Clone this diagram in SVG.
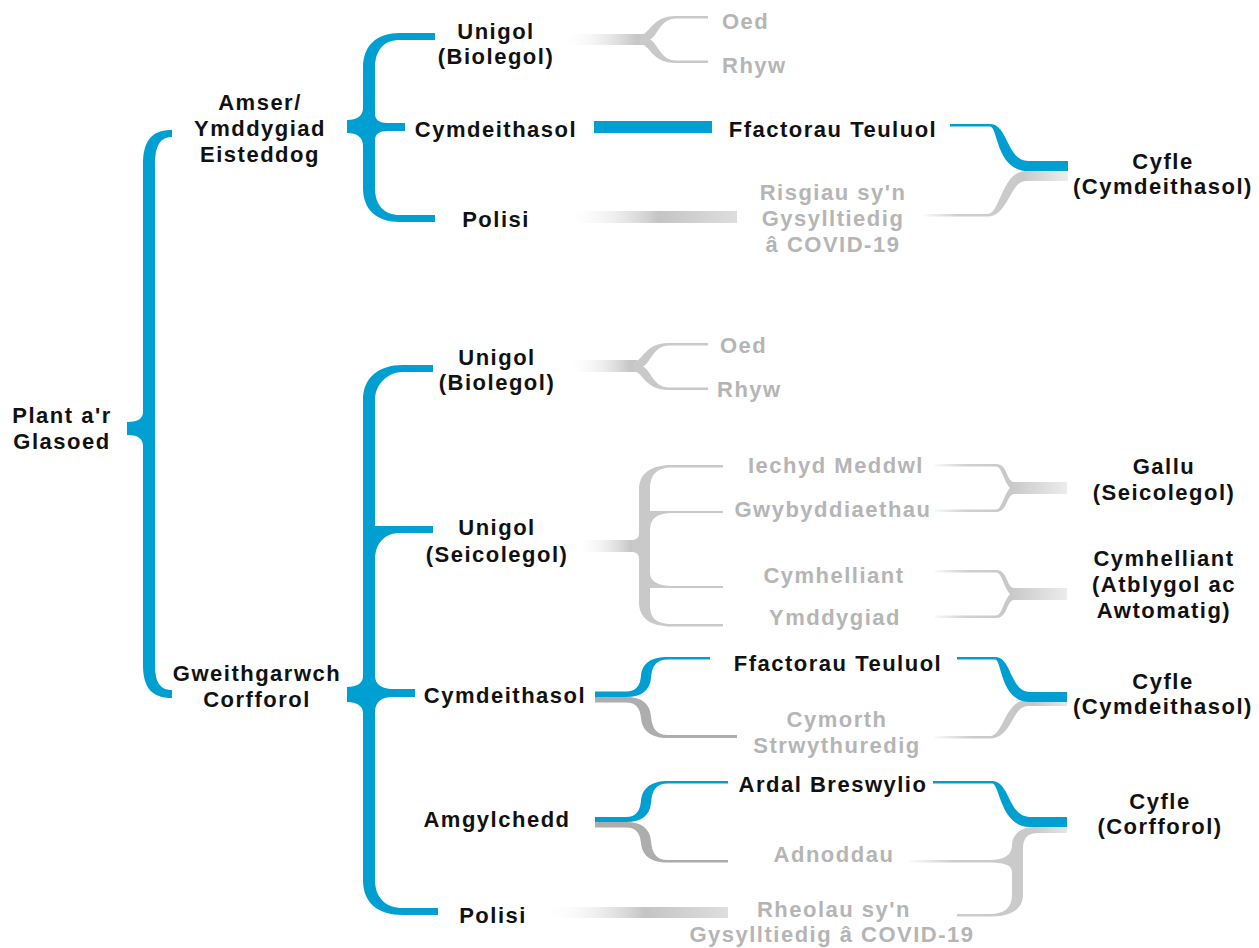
<svg xmlns="http://www.w3.org/2000/svg" width="1259" height="948" viewBox="0 0 1259 948">
<style>
.t{font-family:"Liberation Sans",Arial,sans-serif;font-weight:700;font-size:22px;letter-spacing:1.5px;text-anchor:middle;fill:#111}
.g{fill:#b5b5b5}
.s{text-anchor:start}
.b{fill:#009fd1}
.k{fill:#c9c9c9}
.d{fill:#adadad}
</style>
<defs>
<linearGradient id="fadeIn" x1="0" y1="0" x2="1" y2="0">
<stop offset="0" stop-color="#ffffff" stop-opacity="0"/>
<stop offset="0.9" stop-color="#c6c6c6"/>
<stop offset="1" stop-color="#c6c6c6"/>
</linearGradient>
<linearGradient id="polisi" x1="0" y1="0" x2="1" y2="0">
<stop offset="0" stop-color="#ffffff" stop-opacity="0"/>
<stop offset="0.55" stop-color="#c4c4c4"/>
<stop offset="1" stop-color="#dedede"/>
</linearGradient>
<linearGradient id="fadeOut" x1="0" y1="0" x2="1" y2="0">
<stop offset="0" stop-color="#c9c9c9"/>
<stop offset="1" stop-color="#ececec"/>
</linearGradient>
<linearGradient id="gForkR" gradientUnits="userSpaceOnUse" x1="930" y1="0" x2="1000" y2="0">
<stop offset="0" stop-color="#ffffff"/>
<stop offset="0.5" stop-color="#d2d2d2"/>
<stop offset="1" stop-color="#c9c9c9"/>
</linearGradient>
<linearGradient id="gRisg" gradientUnits="userSpaceOnUse" x1="920" y1="0" x2="1068" y2="0">
<stop offset="0" stop-color="#ffffff"/>
<stop offset="0.25" stop-color="#cfcfcf"/>
<stop offset="0.7" stop-color="#c9c9c9"/>
<stop offset="1" stop-color="#eeeeee"/>
</linearGradient>
<linearGradient id="gCym" gradientUnits="userSpaceOnUse" x1="930" y1="0" x2="1067" y2="0">
<stop offset="0" stop-color="#ffffff"/>
<stop offset="0.3" stop-color="#cccccc"/>
<stop offset="0.75" stop-color="#c6c6c6"/>
<stop offset="1" stop-color="#e6e6e6"/>
</linearGradient>
<linearGradient id="gAdn" gradientUnits="userSpaceOnUse" x1="905" y1="0" x2="1067" y2="0">
<stop offset="0" stop-color="#ffffff"/>
<stop offset="0.3" stop-color="#cccccc"/>
<stop offset="0.8" stop-color="#c9c9c9"/>
<stop offset="1" stop-color="#e6e6e6"/>
</linearGradient>
</defs>

<g id="connectors">
<!-- root brace -->
<path class="b" d="M172,130 C152,130 143,140 143,165 V412 C143,419 137,422 127,422 V435 C137,435 143,438 143,446 V665 C143,688 152,698 172,698 V690 C160,690 155,682 155,665 V165 C155,146 160,137 172,137 Z"/>
<!-- Amser brace -->
<path class="b" d="M435,33 H400 C377,33 363,45 363,68 V108 C363,116 357,120 347,120 V133 C357,133 363,137 363,146 V188 C363,210 377,222 400,222 H435 V215 H400 C384,215 375,205 375,188 V140 C375,134 380,131 387,131 H405 V123 H387 C380,123 375,120 375,114 V68 C375,50 384,40 400,40 H435 Z"/>
<!-- Gweithgarwch brace -->
<path class="b" d="M433,365 H403 C378,365 363,378 363,400 V676 C363,683 357,687 347,687 V702 C357,702 363,706 363,713 V880 C363,903 378,915 403,915 H438 V908 H403 C386,908 375,898 375,880 V712 C375,702 382,697 392,697 H415 V689 H392 C382,689 375,684 375,676 V560 C375,543 385,533 400,533 H433 V526 H375 V400 C375,385 387,372 403,372 H433 Z"/>

<!-- top section -->
<rect x="560" y="34" width="85" height="11" fill="url(#fadeIn)"/>
<path class="k" d="M640,35 C651,34 651,16 676,16 H708 V18.5 H676 C660,18.5 658,36 650,39.5 C658,43 660,60.5 676,60.5 H708 V63 H676 C651,63 651,45 640,44 Z"/>
<rect class="b" x="594" y="121" width="118" height="12"/>
<rect x="563" y="211" width="174" height="12" fill="url(#polisi)"/>
<path fill="url(#gRisg)" d="M923,214 H988 C1000,214 1002,171 1026,171 H1068 V181 H1026 C1010,181 1008,216.5 988,216.5 H923 Z"/>
<path class="b" d="M950,124 H990 C1008,124 1007,161 1028,161 H1068 V171 H1028 C996,171 998,126.5 990,126.5 H950 Z"/>

<!-- bottom: Unigol (Biolegol) -->
<rect x="567" y="360" width="70" height="12" fill="url(#fadeIn)"/>
<path class="k" d="M633,362 C644,361 644,343 669,343 H708 V345.5 H669 C653,345.5 651,363 643,366.5 C651,370 653,387.5 669,387.5 H708 V390 H669 C644,390 644,372 633,371 Z"/>

<!-- Unigol (Seicolegol) -->
<rect x="575" y="540" width="62" height="12" fill="url(#fadeIn)"/>
<path class="k" d="M632,540 C636,540 639,538 639,533 V490 C639,474 650,465 672,465 H723 V467.5 H672 C656,467.5 650,475 650,490 V511 H723 V513 H672 C658,513 650,518 650,530 V573 C650,581 658,586 672,586 H723 V588 H650 V605 C650,618 656,624 672,624 H723 V626.5 H672 C650,626.5 639,618 639,602 V559 C639,554 636,552 632,552 Z"/>
<path fill="url(#gForkR)" d="M935,464 H996 C1008,464 1006,481 1014,482 V494 C1006,495 1008,512 996,512 H935 V509.5 H996 C1002,509.5 1003,496 1010,488 C1003,480 1002,466.5 996,466.5 H935 Z"/>
<rect x="1012" y="482" width="55" height="12" fill="url(#fadeOut)"/>
<path fill="url(#gForkR)" d="M935,570 H996 C1008,570 1006,587 1014,588 V600 C1006,601 1008,618 996,618 H935 V615.5 H996 C1002,615.5 1003,602 1010,594 C1003,586 1002,572.5 996,572.5 H935 Z"/>
<rect x="1012" y="588" width="55" height="12" fill="url(#fadeOut)"/>

<!-- Cymdeithasol (bottom) -->
<path class="d" d="M595,697 H626 C642,697 650,704 651,716 C652,728 656,735 668,735 H737 V738 H668 C650,738 642,730 641,718 C640,708 636,702.5 626,702.5 H595 Z"/>
<path class="b" d="M595,691.5 H626 C636,691.5 640,686 641,676 C642,664 650,657 668,657 H710 V659.5 H668 C656,659.5 652,666 651,678 C650,690 642,697 626,697 H595 Z"/>
<path fill="url(#gCym)" d="M935,736 H990 C1004,736 1004,700 1028,700 H1067 V706 H1028 C1012,706 1012,738.5 990,738.5 H935 Z"/>
<path class="b" d="M957,657 H995 C1012,657 1010,692 1030,692 H1067 V702 H1030 C1000,702 1002,659.5 995,659.5 H957 Z"/>

<!-- Amgylchedd -->
<path class="d" d="M595,822 H626 C642,822 650,829 651,841 C652,853 656,860 668,860 H728 V862.5 H668 C650,862.5 642,855 641,843 C640,833 636,827.5 626,827.5 H595 Z"/>
<path class="b" d="M595,817 H626 C636,817 640,811 641,801 C642,789 650,781 668,781 H728 V783.5 H668 C656,783.5 652,790 651,803 C650,815 642,822 626,822 H595 Z"/>
<path fill="url(#gAdn)" d="M910,860 H990 C1004,860 1012,855 1012,845 C1012,835 1020,827 1035,827 H1067 V833 H1038 C1028,833 1023,838 1023,848 V895 C1023,908 1012,916.5 992,916.5 H957 V914 H990 C1004,914 1012,908 1012,895 V872 C1012,866 1006,862.5 990,862.5 H910 Z"/>
<path class="b" d="M933,781 H992 C1010,781 1008,817 1030,817 H1067 V827 H1030 C1000,827 1000,783.5 992,783.5 H933 Z"/>

<!-- Polisi (bottom) -->
<rect x="543" y="907" width="185" height="11" fill="url(#polisi)"/>
</g>

<g id="n-plant"><text class="t" x="62" y="423">Plant a'r<tspan x="62" y="449">Glasoed</tspan></text></g>
<g id="n-amser"><text class="t" x="260" y="110">Amser/<tspan x="260" y="136">Ymddygiad</tspan><tspan x="260" y="162">Eisteddog</tspan></text></g>
<g id="n-gweith"><text class="t" x="257" y="681">Gweithgarwch<tspan x="257" y="707">Corfforol</tspan></text></g>

<g id="n-unigol-bio-1"><text class="t" x="496" y="39">Unigol<tspan x="496" y="64">(Biolegol)</tspan></text></g>
<g id="n-cymd-1"><text class="t" x="496" y="137">Cymdeithasol</text></g>
<g id="n-polisi-1"><text class="t" x="496" y="227">Polisi</text></g>
<g id="n-oed-1"><text class="t g s" x="722" y="29">Oed</text></g>
<g id="n-rhyw-1"><text class="t g s" x="722" y="73">Rhyw</text></g>
<g id="n-ffact-1"><text class="t" x="833" y="137">Ffactorau Teuluol</text></g>
<g id="n-risg"><text class="t g" x="833" y="200">Risgiau sy'n<tspan x="833" y="226">Gysylltiedig</tspan><tspan x="833" y="252">â COVID-19</tspan></text></g>
<g id="n-cyfle-1"><text class="t" x="1163" y="169">Cyfle<tspan x="1163" y="194">(Cymdeithasol)</tspan></text></g>

<g id="n-unigol-bio-2"><text class="t" x="497" y="365">Unigol<tspan x="497" y="390">(Biolegol)</tspan></text></g>
<g id="n-oed-2"><text class="t g s" x="720" y="353">Oed</text></g>
<g id="n-rhyw-2"><text class="t g s" x="717" y="397">Rhyw</text></g>
<g id="n-unigol-seic"><text class="t" x="497" y="535">Unigol<tspan x="497" y="562">(Seicolegol)</tspan></text></g>
<g id="n-iechyd"><text class="t g" x="836" y="473">Iechyd Meddwl</text></g>
<g id="n-gwyb"><text class="t g" x="833" y="517">Gwybyddiaethau</text></g>
<g id="n-cymh-1"><text class="t g" x="834" y="583">Cymhelliant</text></g>
<g id="n-ymdd"><text class="t g" x="835" y="625">Ymddygiad</text></g>
<g id="n-gallu"><text class="t" x="1164" y="474">Gallu<tspan x="1164" y="500">(Seicolegol)</tspan></text></g>
<g id="n-cymh-2"><text class="t" x="1164" y="566">Cymhelliant<tspan x="1164" y="592">(Atblygol ac</tspan><tspan x="1164" y="618">Awtomatig)</tspan></text></g>
<g id="n-cymd-2"><text class="t" x="505" y="703">Cymdeithasol</text></g>
<g id="n-ffact-2"><text class="t" x="838" y="671">Ffactorau Teuluol</text></g>
<g id="n-cymorth"><text class="t g" x="837" y="727">Cymorth<tspan x="837" y="753">Strwythuredig</tspan></text></g>
<g id="n-cyfle-2"><text class="t" x="1163" y="689">Cyfle<tspan x="1163" y="714">(Cymdeithasol)</tspan></text></g>
<g id="n-amgyl"><text class="t" x="497" y="827">Amgylchedd</text></g>
<g id="n-ardal"><text class="t" x="833" y="792">Ardal Breswylio</text></g>
<g id="n-adnodd"><text class="t g" x="834" y="862">Adnoddau</text></g>
<g id="n-cyfle-3"><text class="t" x="1160" y="809">Cyfle<tspan x="1160" y="834">(Corfforol)</tspan></text></g>
<g id="n-polisi-2"><text class="t" x="493" y="923">Polisi</text></g>
<g id="n-rheol"><text class="t g" x="834" y="917">Rheolau sy'n<tspan x="832" y="942">Gysylltiedig â COVID-19</tspan></text></g>
</svg>
